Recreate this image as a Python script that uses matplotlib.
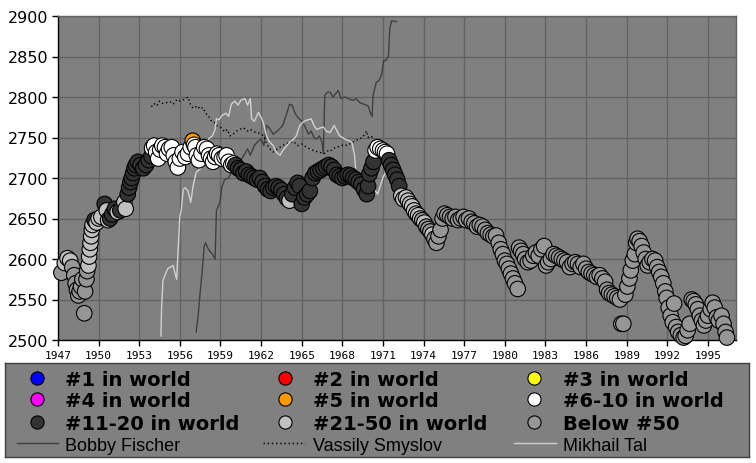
import matplotlib
matplotlib.use("Agg")
import matplotlib.pyplot as plt

# ---------------- data ----------------
# main player: (year, rating, rank-category)
years = [1947.25, 1947.5, 1947.7, 1947.9, 1948.05, 1948.2, 1948.3, 1948.4, 1948.5, 1948.6,
         1948.7, 1948.8, 1948.94, 1949.0, 1949.1, 1949.15, 1949.25, 1949.3, 1949.35, 1949.4,
         1949.45, 1949.5, 1949.55, 1949.7, 1949.85, 1950.0, 1950.2, 1950.45, 1950.6, 1950.7,
         1950.85, 1951.0, 1951.2, 1951.4, 1951.6, 1951.9, 1952.0, 1952.15, 1952.25, 1952.35,
         1952.45, 1952.55, 1952.65, 1952.75, 1952.9, 1953.1, 1953.3, 1953.5, 1953.7, 1953.9,
         1953.95, 1954.1, 1954.25, 1954.4, 1954.55, 1954.7, 1954.9, 1955.05, 1955.2, 1955.4,
         1955.55, 1955.7, 1955.85, 1956.0, 1956.2, 1956.4, 1956.6, 1956.8, 1956.95, 1957.05,
         1957.15, 1957.25, 1957.4, 1957.6, 1957.8, 1958.0, 1958.15, 1958.3, 1958.45, 1958.6,
         1958.75, 1958.9, 1959.1, 1959.3, 1959.45, 1959.6, 1959.8, 1959.95,
         1960.1, 1960.3, 1960.5, 1960.7, 1960.9, 1961.1, 1961.3, 1961.5, 1961.7, 1961.9,
         1962.1, 1962.3, 1962.5, 1962.7, 1962.9, 1963.1, 1963.3, 1963.5, 1963.7, 1963.9,
         1964.1, 1964.3, 1964.5, 1964.7, 1964.85, 1965.0, 1965.2, 1965.4, 1965.6, 1965.8,
         1966.0, 1966.2, 1966.4, 1966.6, 1966.8, 1967.0, 1967.2, 1967.4, 1967.6, 1967.8,
         1968.0, 1968.2, 1968.4, 1968.6, 1968.8, 1969.0, 1969.2, 1969.4, 1969.6, 1969.8,
         1969.9, 1970.0, 1970.15, 1970.3,
         1970.45, 1970.6, 1970.8, 1971.0, 1971.15, 1971.3, 1971.45, 1971.6, 1971.75, 1971.9,
         1972.05, 1972.2,
         1972.35, 1972.5, 1972.7, 1972.85, 1973.0, 1973.15, 1973.3, 1973.45, 1973.6, 1973.75,
         1973.9, 1974.05, 1974.2, 1974.35, 1974.5, 1974.65, 1974.8, 1974.95, 1975.1, 1975.25,
         1975.4, 1975.55, 1975.75, 1975.95, 1976.15, 1976.35, 1976.55, 1976.75, 1976.95, 1977.15,
         1977.35, 1977.55, 1977.75, 1977.95, 1978.15, 1978.35, 1978.55, 1978.75, 1978.95, 1979.15,
         1979.35, 1979.55, 1979.7, 1979.85, 1980.0, 1980.15, 1980.3, 1980.45, 1980.6, 1980.75,
         1980.95, 1981.05, 1981.2, 1981.35, 1981.5, 1981.7, 1981.9, 1982.1, 1982.3, 1982.5,
         1982.7, 1982.9, 1983.05, 1983.2, 1983.4, 1983.6, 1983.8, 1984.0, 1984.2, 1984.4,
         1984.6, 1984.8, 1985.0, 1985.2, 1985.4, 1985.6, 1985.8, 1986.0, 1986.2, 1986.4,
         1986.6, 1986.8, 1987.0, 1987.2, 1987.4, 1987.55, 1987.7, 1987.9, 1988.1, 1988.3,
         1988.5, 1988.6, 1988.75, 1988.9, 1989.05, 1989.2, 1989.3, 1989.45, 1989.6, 1989.7,
         1989.8, 1989.95, 1990.1, 1990.25, 1990.4, 1990.55, 1990.7, 1990.9, 1991.1, 1991.25,
         1991.4, 1991.55, 1991.7, 1991.85, 1991.95, 1992.1, 1992.25, 1992.4, 1992.5, 1992.65,
         1992.8, 1993.0, 1993.2, 1993.35, 1993.5, 1993.65, 1993.8, 1993.95, 1994.1, 1994.25,
         1994.4, 1994.55, 1994.7, 1994.85, 1995.0, 1995.2, 1995.35, 1995.5, 1995.65, 1995.8,
         1996.0, 1996.15, 1996.3, 1996.4]
ratings = [2583, 2595, 2601, 2598, 2590, 2580, 2570, 2562, 2555, 2560,
           2566, 2575, 2533, 2560, 2575, 2585, 2592, 2603, 2612, 2620,
           2628, 2636, 2642, 2648, 2645, 2650, 2652, 2668, 2660, 2648,
           2650, 2655, 2662, 2658, 2660, 2670, 2662, 2680, 2688, 2695,
           2700, 2706, 2712, 2716, 2720, 2716, 2712, 2716, 2722, 2727,
           2737, 2740, 2732, 2724, 2735, 2740, 2738, 2730, 2736, 2738,
           2728, 2720, 2713, 2724, 2732, 2726, 2730, 2738, 2746, 2741,
           2738, 2728, 2722, 2730, 2738, 2736, 2728, 2724, 2720, 2726,
           2730, 2728, 2724, 2726, 2728, 2720, 2716, 2718,
           2716, 2712, 2710, 2706, 2708, 2704, 2702, 2700, 2698, 2700,
           2695, 2690, 2686, 2684, 2688, 2690, 2688, 2685, 2680, 2675,
           2672, 2680, 2688, 2694, 2690, 2668, 2676, 2680, 2684, 2700,
           2706, 2708, 2710, 2712, 2714, 2716, 2714, 2710, 2704, 2702,
           2700, 2702, 2704, 2703, 2700, 2698, 2695, 2692, 2686, 2680,
           2690, 2705, 2712, 2720,
           2734, 2738, 2736, 2734, 2732, 2730, 2722, 2716, 2710, 2704,
           2698, 2690,
           2678, 2674, 2676, 2672, 2668, 2665, 2660, 2656, 2654, 2650,
           2648, 2645, 2640, 2637, 2634, 2630, 2625, 2620, 2628, 2636,
           2650, 2656, 2654, 2652, 2650, 2652, 2648, 2650, 2652, 2648,
           2650, 2646, 2644, 2640, 2642, 2640, 2636, 2632, 2630, 2628,
           2629, 2620, 2612, 2606, 2598, 2594, 2588, 2582, 2576, 2570,
           2563, 2614, 2610, 2606, 2600, 2596, 2598, 2604, 2608, 2604,
           2612, 2616, 2592, 2596, 2600, 2606, 2604, 2602, 2600, 2598,
           2596, 2590, 2594, 2596, 2594, 2590, 2594, 2588, 2584, 2582,
           2580, 2578, 2580, 2576, 2572, 2562, 2558, 2556, 2554, 2552,
           2550, 2520, 2520, 2556, 2566, 2576, 2586, 2598, 2606, 2620,
           2625, 2622, 2616, 2608, 2600, 2592, 2596, 2600, 2598, 2590,
           2584, 2578, 2570, 2560, 2552, 2540, 2530, 2522, 2545, 2516,
           2510, 2506, 2503, 2505, 2512, 2520, 2550, 2548, 2544, 2538,
           2530, 2524, 2518, 2524, 2530, 2538, 2546, 2540, 2528, 2524,
           2530, 2520, 2510, 2503]
ranks = (["B", "L", "L", "L", "B", "B", "B", "B", "B", "B",
          "B", "B", "B", "B", "B", "B", "L", "L", "L", "L",
          "L", "L", "L", "D", "L", "L", "L", "D", "L", "L",
          "D", "D", "D", "L", "D", "L", "L", "D", "D", "D",
          "D", "D", "D", "D", "D", "D", "D", "D", "D", "D"]
         + ["W"] * 18 + ["O"] + ["W"] * 19
         + ["D"] * 20 + ["L"] + ["D"] * 33
         + ["W"] * 6 + ["D"] * 6
         + ["L"] * 10 + ["B", "L", "B", "B", "B", "L"] + ["B"] * 142)
ranks = ranks[:len(years)] + ["B"] * (len(years) - len(ranks))

rank_colors = {"1": "#0000ff", "2": "#ff0000", "3": "#ffff00", "4": "#ff00ff",
               "O": "#ff9900", "W": "#ffffff", "D": "#333333", "L": "#c0c0c0",
               "B": "#969696"}

fischer_years = [1957.2, 1957.35, 1957.5, 1957.65, 1957.8, 1957.9, 1958.1, 1958.4, 1958.6, 1958.7,
                 1958.96, 1959.1, 1959.3, 1959.6, 1959.8, 1960.1, 1960.5, 1960.8, 1961.0, 1961.2,
                 1961.5, 1961.7, 1962.0, 1962.2, 1962.4, 1962.6, 1962.9, 1963.2, 1963.6, 1963.9,
                 1964.1, 1964.3, 1964.5, 1964.7, 1965.0, 1965.2, 1965.5, 1965.7, 1965.9, 1966.1,
                 1966.3, 1966.5, 1966.6, 1966.7, 1966.9, 1967.1, 1967.3, 1967.5, 1967.7, 1967.9,
                 1968.2, 1968.55, 1968.8, 1969.0, 1969.3, 1969.6, 1969.9, 1970.1, 1970.2, 1970.27,
                 1970.5, 1970.7, 1970.9, 1971.05, 1971.2, 1971.4, 1971.5, 1971.63, 1972.0]
fischer_ratings = [2510, 2530, 2559, 2585, 2616, 2620, 2612, 2606, 2600, 2660,
                   2670, 2689, 2698, 2700, 2707, 2715, 2722, 2730, 2736, 2728,
                   2740, 2744, 2748, 2740, 2765, 2762, 2754, 2758, 2765, 2780,
                   2791, 2790, 2780, 2775, 2770, 2765, 2754, 2758, 2750, 2748,
                   2752, 2744, 2730, 2802, 2806, 2806, 2800, 2804, 2808, 2798,
                   2800, 2797, 2796, 2798, 2793, 2791, 2789, 2779, 2776, 2802,
                   2818, 2820, 2828, 2845, 2845, 2850, 2884, 2894, 2893]

smyslov_years = [1953.9, 1954.1, 1954.3, 1954.5, 1954.7, 1955.0, 1955.3, 1955.5, 1955.8, 1956.0,
                 1956.3, 1956.6, 1956.8, 1957.0, 1957.3, 1957.5, 1957.7, 1957.9, 1958.1, 1958.3,
                 1958.5, 1958.7, 1959.0, 1959.3, 1959.5, 1959.7, 1960.0, 1960.2, 1960.4, 1960.7,
                 1961.0, 1961.2, 1961.5, 1961.9, 1962.2, 1962.4, 1962.7, 1962.9, 1963.2, 1963.5,
                 1963.8, 1964.1, 1964.4, 1964.7, 1965.0, 1965.35, 1965.7, 1966.0, 1966.3, 1966.6,
                 1966.8, 1967.0, 1967.2, 1967.5, 1967.8, 1968.1, 1968.4, 1968.7, 1968.9, 1969.2,
                 1969.5, 1969.7, 1969.8, 1969.9, 1970.1, 1970.4]
smyslov_ratings = [2788, 2792, 2789, 2795, 2792, 2793, 2794, 2791, 2797, 2795,
                   2797, 2800, 2790, 2786, 2789, 2785, 2787, 2780, 2777, 2771,
                   2770, 2765, 2763, 2757, 2760, 2752, 2755, 2758, 2760, 2762,
                   2758, 2760, 2757, 2755, 2752, 2742, 2735, 2732, 2736, 2739,
                   2742, 2744, 2745, 2740, 2742, 2738, 2735, 2733, 2732, 2730,
                   2731, 2735, 2734, 2738, 2739, 2741, 2740, 2744, 2745, 2748,
                   2750, 2756, 2758, 2750, 2752, 2748]

tal_years = [1954.6, 1954.65, 1954.75, 1954.9, 1955.1, 1955.3, 1955.5, 1955.6, 1955.76, 1955.9,
             1956.0, 1956.1, 1956.25, 1956.4, 1956.6, 1956.8, 1956.98, 1957.2, 1957.5, 1957.7,
             1957.9, 1958.1, 1958.4, 1958.6, 1958.7, 1958.9, 1959.1, 1959.4, 1959.6, 1959.8,
             1960.06, 1960.3, 1960.5, 1960.8, 1961.0, 1961.2, 1961.3, 1961.5, 1961.8, 1962.0,
             1962.15, 1962.4, 1962.6, 1962.9, 1963.1, 1963.4, 1963.6, 1963.9, 1964.1, 1964.4,
             1964.6, 1964.86, 1965.1, 1965.3, 1965.7, 1965.9, 1966.1, 1966.4, 1966.6, 1966.8,
             1967.07, 1967.3, 1967.4, 1967.6, 1967.8, 1968.0, 1968.2, 1968.5, 1968.7, 1968.9,
             1969.0, 1969.2, 1969.4, 1969.65, 1969.9, 1970.1, 1970.3, 1970.6, 1970.8, 1971.0,
             1971.2]
tal_ratings = [2505, 2540, 2573, 2580, 2588, 2590, 2592, 2585, 2575, 2620,
               2653, 2660, 2686, 2688, 2684, 2670, 2690, 2707, 2711, 2721,
               2730, 2748, 2752, 2760, 2773, 2772, 2777, 2780, 2776, 2791,
               2795, 2790, 2796, 2798, 2790, 2798, 2773, 2770, 2781, 2775,
               2769, 2752, 2745, 2740, 2732, 2728, 2734, 2740, 2744, 2748,
               2752, 2765, 2769, 2771, 2773, 2765, 2760, 2762, 2763, 2758,
               2756, 2762, 2765, 2758, 2752, 2750, 2748, 2746, 2744, 2728,
               2707, 2705, 2706, 2699, 2686, 2690, 2688, 2680, 2690, 2701,
               2707]

x_ticks = list(range(1947, 1996, 3))
y_ticks = list(range(2500, 2901, 50))

legend_marker_labels = ["#1 in world", "#2 in world", "#3 in world",
                        "#4 in world", "#5 in world", "#6-10 in world",
                        "#11-20 in world", "#21-50 in world", "Below #50"]
legend_marker_keys = ["1", "2", "3", "4", "O", "W", "D", "L", "B"]
line_names = ["Bobby Fischer", "Vassily Smyslov", "Mikhail Tal"]

# ---------------- figure ----------------
W, H = 756, 464
fig = plt.figure(figsize=(W / 100, H / 100), dpi=100, facecolor="white")

def fx(px):
    return px / W

def fy(py):
    return 1 - py / H

ax = fig.add_axes([fx(58), fy(341), fx(736) - fx(58), fy(17) - fy(341)])
ax.set_facecolor("#808080")
ax.set_xlim(1947, 1997.07)
ax.set_ylim(2500, 2900)
ax.set_xticks(x_ticks)
ax.set_yticks(y_ticks)
ax.grid(True, color="#626262", linewidth=1.0)
ax.set_axisbelow(True)
for side in ["top", "right"]:
    ax.spines[side].set_color("#626262")
    ax.spines[side].set_linewidth(1.0)
for side in ["left", "bottom"]:
    ax.spines[side].set_color("black")
    ax.spines[side].set_linewidth(1.0)
ax.tick_params(axis="y", length=4, width=1, pad=3, labelsize=11.5, direction="out")
ax.tick_params(axis="x", length=4, width=1, pad=3, direction="out")
for lab in ax.get_yticklabels():
    lab.set_fontfamily("DejaVu Sans")
for lab in ax.get_xticklabels():
    lab.set_fontfamily("DejaVu Sans Mono")
    lab.set_fontsize(8)

# lines behind markers
ax.plot(fischer_years, fischer_ratings, color="#404040", lw=1.0, zorder=2)
ax.plot(smyslov_years, smyslov_ratings, color="black", lw=1.0, ls=(0, (1, 2)), zorder=2)
ax.plot(tal_years, tal_ratings, color="#d0d0d0", lw=1.0, zorder=2)

cols = [rank_colors[r] for r in ranks]
ax.scatter(years, ratings, s=125, c=cols, edgecolors="black", linewidths=0.8,
           zorder=3, clip_on=False)

# ---------------- legend box ----------------
lx0, ly0, lx1, ly1 = 5, 364, 749, 458
lax = fig.add_axes([fx(lx0), fy(ly1), fx(lx1) - fx(lx0), fy(ly0) - fy(ly1)])
lax.set_xlim(lx0, lx1)
lax.set_ylim(ly1, ly0)
lax.set_facecolor("#808080")
lax.set_xticks([])
lax.set_yticks([])
for s in lax.spines.values():
    s.set_color("#404040")
    s.set_linewidth(1.0)

marker_x = [37, 285, 534]
text_x = [65, 313, 563]
row_marker_y = [378.5, 400.5, 423.5]
row_base_y = [386, 407, 430]
for i, (lbl, key) in enumerate(zip(legend_marker_labels, legend_marker_keys)):
    r, c = divmod(i, 3)
    lax.plot([marker_x[c]], [row_marker_y[r]], marker="o", ms=9.5,
             mfc=rank_colors[key], mec="black", mew=0.8, ls="none")
    lax.text(text_x[c], row_base_y[r], lbl, fontsize=14, fontweight="bold",
             family="DejaVu Sans", va="baseline", ha="left", color="black")

line_styles = [dict(color="#404040", lw=1.0, ls="-"),
               dict(color="black", lw=1.0, ls=(0, (1, 2))),
               dict(color="#d0d0d0", lw=1.0, ls="-")]
line_x = [(17, 58), (263, 305), (514, 556)]
for i, name in enumerate(line_names):
    x0, x1 = line_x[i]
    lax.plot([x0, x1], [444.5, 444.5], **line_styles[i])
    lax.text(text_x[i], 451.5, name, fontsize=13, family="Liberation Sans",
             va="baseline", ha="left", color="black")

fig.savefig("out.png", dpi=100, facecolor="white")
